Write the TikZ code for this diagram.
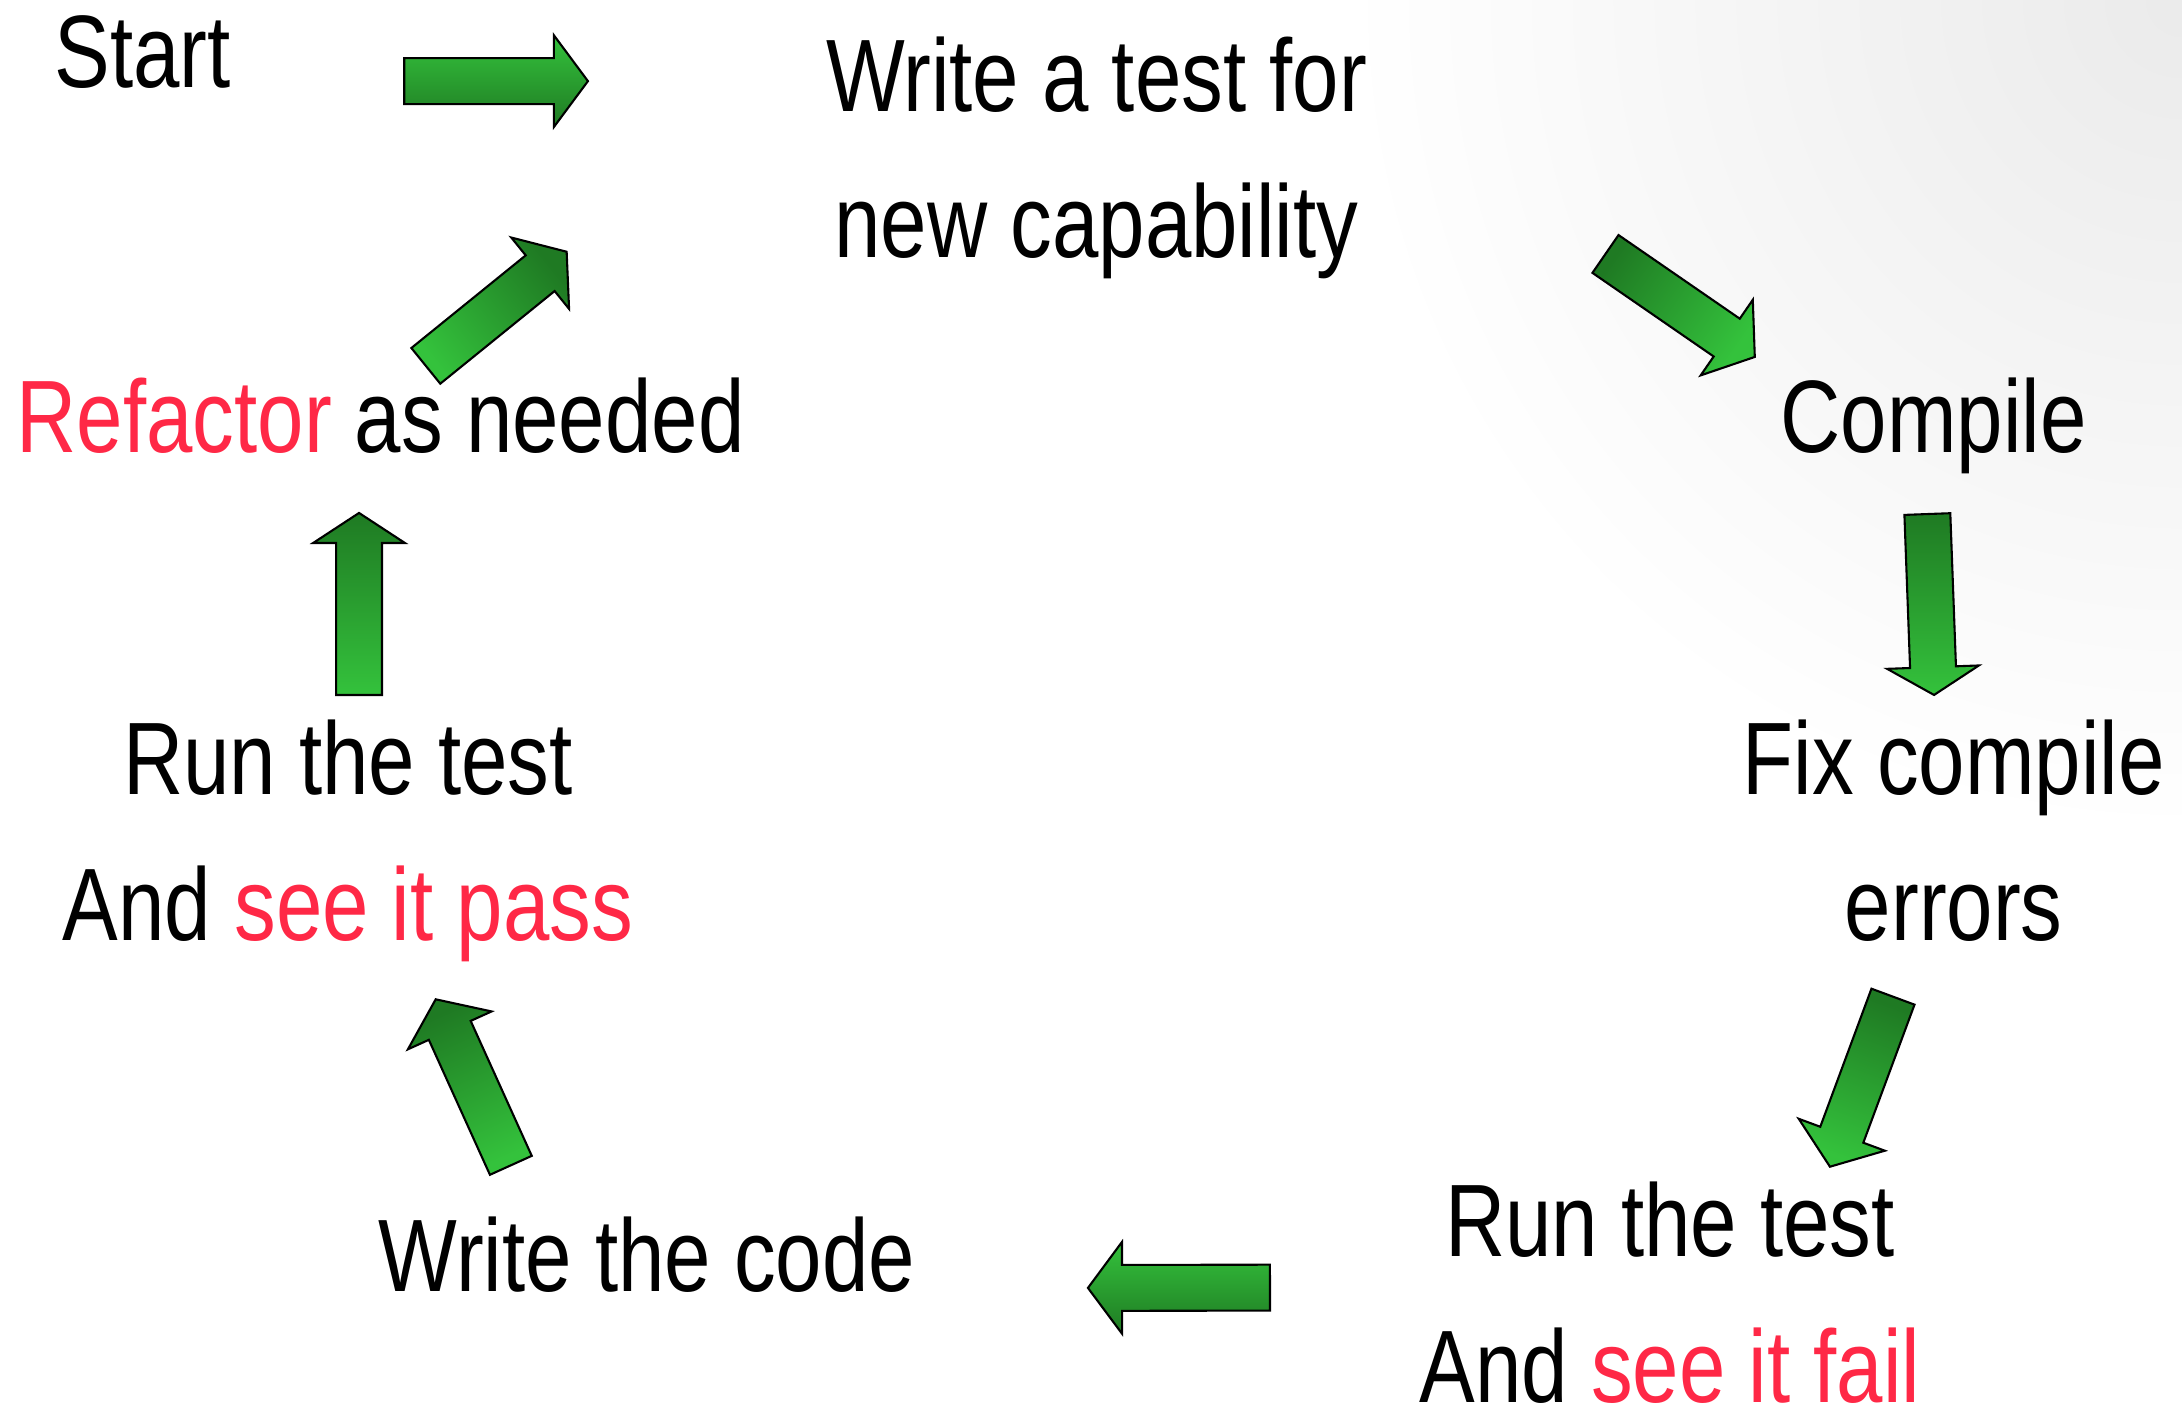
\documentclass[tikz,border=0pt]{standalone}
\usepackage{fontspec}
\setmainfont[FakeStretch=0.81]{Liberation Sans}
\usetikzlibrary{calc}

\definecolor{arrowdark}{RGB}{31,122,35}
\definecolor{arrowlight}{RGB}{52,194,60}
\definecolor{hot}{RGB}{255,40,70}

\tikzset{
  stage/.style={inner sep=0pt, align=center, font=\fontsize{37}{52.5}\selectfont},
  arrowbody/.style={draw=black, line width=0.75pt, line join=miter,
    top color=arrowdark, bottom color=arrowlight},
}

% Block arrow from #2 (tail centre) to #3 (tip); #1 = head length, #4 = shading angle
\newcommand\blockarrow[4][12.25pt]{%
  \coordinate (ba-c) at ($(#3)!#1!(#2)$);
  \path[arrowbody, shading angle=#4]
    ($(#2)!8.25pt!90:(#3)$) -- ($(ba-c)!8.25pt!90:(#3)$) -- ($(ba-c)!16.5pt!90:(#3)$)
    -- (#3)
    -- ($(ba-c)!16.5pt!-90:(#3)$) -- ($(ba-c)!8.25pt!-90:(#3)$) -- ($(#2)!8.25pt!-90:(#3)$)
    -- cycle;
}

\begin{document}
\begin{tikzpicture}[x=0.5pt, y=-0.5pt]
\useasboundingbox (0,0) rectangle (1568,1012);

% soft grey haze in the upper right corner
\begin{scope}
  \clip (0,0) rectangle (1568,1012);
  \shade[inner color=black!8, outer color=white] (1568,0) circle (300pt);
\end{scope}

% stages of the cycle
\node[stage, anchor=base]  (start)    at (102.5,63)  {Start};
\node[stage, anchor=north] (write)    at (788,26)    {Write a test for\\new capability};
\node[stage, anchor=base]  (compile)  at (1389.5,325) {Compile};
\node[stage, anchor=north] (fix)      at (1404,517)  {Fix compile\\errors};
\node[stage, anchor=north] (runfail)  at (1200,849)  {Run the test\\And \textcolor{hot}{see it fail}};
\node[stage, anchor=base]  (code)     at (465,928)   {Write the code};
\node[stage, anchor=north] (runpass)  at (250,517)   {Run the test\\And \textcolor{hot}{see it pass}};
\node[stage, anchor=base]  (refactor) at (273.5,325) {\textcolor{hot}{Refactor} as needed};

% arrow end points
\coordinate (s1) at (290.5,58.3);  \coordinate (t1) at (422.5,58.3);
\coordinate (s2) at (1153.7,182.5); \coordinate (t2) at (1261,256.5);
\coordinate (s3) at (1385,369.4);  \coordinate (t3) at (1389.8,499.4);
\coordinate (s4) at (1360.3,716.2); \coordinate (t4) at (1315,838.4);
\coordinate (s5) at (912.6,925.3); \coordinate (t5) at (781.8,925.5);
\coordinate (s6) at (367.1,837.4); \coordinate (t6) at (313.1,718.1);
\coordinate (s7) at (258,499.4);   \coordinate (t7) at (258,368.6);
\coordinate (s8) at (306,262.9);   \coordinate (t8) at (407.2,180.9);

% green block arrows
\blockarrow{s1}{t1}{180}
\blockarrow{s2}{t2}{55}
\blockarrow[10pt]{s3}{t3}{0}
\blockarrow{s4}{t4}{-20}
\blockarrow{s5}{t5}{180}
\blockarrow{s6}{t6}{24}
\blockarrow[10.8pt]{s7}{t7}{0}
\blockarrow{s8}{t8}{-51}
\end{tikzpicture}
\end{document}
